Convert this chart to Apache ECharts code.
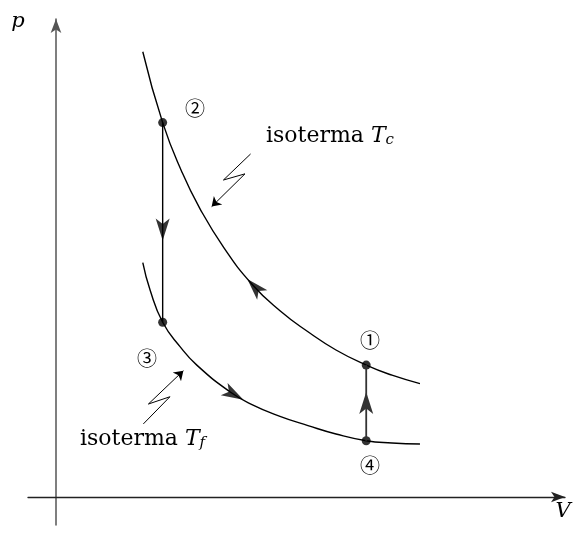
<!DOCTYPE html>
<html>
<head>
<meta charset="utf-8">
<script src="https://cdn.jsdelivr.net/npm/echarts@6/dist/echarts.min.js"></script>
<style>
  html, body { margin: 0; padding: 0; background: #fff; }
  #chart { width: 579px; height: 542px; }
</style>
</head>
<body>
<div id="chart"></div>
<script>
// isoterma calda (Tc): punti [V, p]
var hotCurve = [
    [3.10, 15.9], [3.81, 13.37], [4.5, 11.6], [5.14, 10.3], [6.0, 8.9],
    [7.0, 7.6], [8.0, 6.65], [9.0, 5.9], [10.0, 5.25], [11.08, 4.71],
    [12.0, 4.35], [13.0, 4.05]
];
// isoterma fredda (Tf)
var coldCurve = [
    [3.10, 8.37], [3.36, 7.39], [3.81, 6.24], [4.43, 5.37], [5.03, 4.71],
    [6.21, 3.76], [7.0, 3.30], [8.0, 2.88], [9.0, 2.55], [10.0, 2.25],
    [11.08, 2.01], [12.0, 1.93], [13.0, 1.89]
];
// stati 1..4
var states = [[11.08, 4.71], [3.81, 13.37], [3.81, 6.24], [11.08, 2.01]];
// trasformazioni isocore
var iso23 = [[3.81, 13.37], [3.81, 6.24]];
var iso41 = [[11.08, 2.01], [11.08, 4.71]];
// frecce di verso [V, p, rotazione]
var flowArrows = [
    [3.81, 9.55, 180],
    [11.08, 3.36, 0],
    [7.1, 7.5, 43],
    [6.35, 3.66, -119]
];
// fulmini che indicano le isoterme
var boltHot = [[6.95, 12.25], [5.98, 11.32], [6.75, 11.54], [5.56, 10.37]];
var boltCold = [[3.12, 2.61], [4.07, 3.58], [3.30, 3.32], [4.55, 4.51]];

var chart = echarts.init(document.getElementById('chart'));

var ink = '#000';
var serif = 'DejaVu Serif';
var circled = '20px "Noto Sans CJK JP"';
var head = 'path://M0,0 L6,20 L0,15 L-6,20 Z';

// ultimo tratto del fulmine con la punta
function tip(b) {
    return { coords: [b[b.length - 2], b[b.length - 1]] };
}

var option = {
    animation: false,
    grid: { left: 28, right: 14, top: 19, bottom: 17 },
    xAxis: {
        type: 'value', min: -1, max: 18.18,
        axisLine: { onZero: true, symbol: ['none', 'arrow'], symbolSize: [8, 14],
            lineStyle: { color: '#222', width: 1.3 } },
        axisTick: { show: false }, axisLabel: { show: false }, splitLine: { show: false }
    },
    yAxis: {
        type: 'value', min: -1, max: 17.07,
        axisLine: { onZero: true, symbol: ['none', 'arrow'], symbolSize: [8, 14],
            lineStyle: { color: '#555', width: 1.5 } },
        axisTick: { show: false }, axisLabel: { show: false }, splitLine: { show: false }
    },
    series: [
        {
            type: 'line', data: hotCurve, smooth: 0.5, symbol: 'none',
            lineStyle: { color: ink, width: 1.4 }
        },
        {
            type: 'line', data: coldCurve, smooth: 0.5, symbol: 'none',
            lineStyle: { color: ink, width: 1.4 }
        },
        {
            type: 'line', data: iso23, symbol: 'none',
            lineStyle: { color: ink, width: 1.4 }
        },
        {
            type: 'line', data: iso41, symbol: 'none',
            lineStyle: { color: '#333', width: 1.8 }
        },
        {
            type: 'scatter', data: flowArrows, symbol: head, symbolSize: [14, 22],
            symbolRotate: function (d) { return d[2]; },
            itemStyle: { color: ink }
        },
        {
            type: 'scatter', data: states, symbolSize: 9,
            itemStyle: { color: ink }
        },
        {
            type: 'lines', coordinateSystem: 'cartesian2d', polyline: true,
            lineStyle: { color: ink, width: 1, opacity: 1 },
            data: [{ coords: boltHot.slice(0, 3) }, { coords: boltCold.slice(0, 3) }]
        },
        {
            type: 'lines', coordinateSystem: 'cartesian2d',
            symbol: ['none', 'arrow'], symbolSize: 9,
            lineStyle: { color: ink, width: 1, opacity: 1, curveness: 0 },
            data: [tip(boltHot), tip(boltCold)]
        }
    ],
    graphic: [
        { type: 'text', x: 18, y: 22, style: { text: 'p', font: 'italic 21px ' + serif, fill: ink, align: 'center', verticalAlign: 'middle' } },
        { type: 'text', x: 563, y: 512, style: { text: 'V', font: 'italic 21px ' + serif, fill: ink, align: 'center', verticalAlign: 'middle' } },
        { type: 'text', x: 370, y: 340, style: { text: '①', font: circled, fill: ink, align: 'center', verticalAlign: 'middle' } },
        { type: 'text', x: 195, y: 108, style: { text: '②', font: circled, fill: ink, align: 'center', verticalAlign: 'middle' } },
        { type: 'text', x: 147, y: 358, style: { text: '③', font: circled, fill: ink, align: 'center', verticalAlign: 'middle' } },
        { type: 'text', x: 370, y: 465, style: { text: '④', font: circled, fill: ink, align: 'center', verticalAlign: 'middle' } },
        {
            type: 'text', x: 266, y: 148,
            style: {
                text: '{a|isoterma }{t|T}{s|c}', verticalAlign: 'bottom',
                rich: {
                    a: { font: '22px ' + serif, fill: ink },
                    t: { font: 'italic 22px ' + serif, fill: ink },
                    s: { font: 'italic 15px ' + serif, fill: ink, padding: [9, 0, 0, 0] }
                }
            }
        },
        {
            type: 'text', x: 80, y: 451,
            style: {
                text: '{a|isoterma }{t|T}{s|f}', verticalAlign: 'bottom',
                rich: {
                    a: { font: '22px ' + serif, fill: ink },
                    t: { font: 'italic 22px ' + serif, fill: ink },
                    s: { font: 'italic 15px ' + serif, fill: ink, padding: [9, 0, 0, 0] }
                }
            }
        }
    ]
};
chart.setOption(option);
</script>
</body>
</html>
